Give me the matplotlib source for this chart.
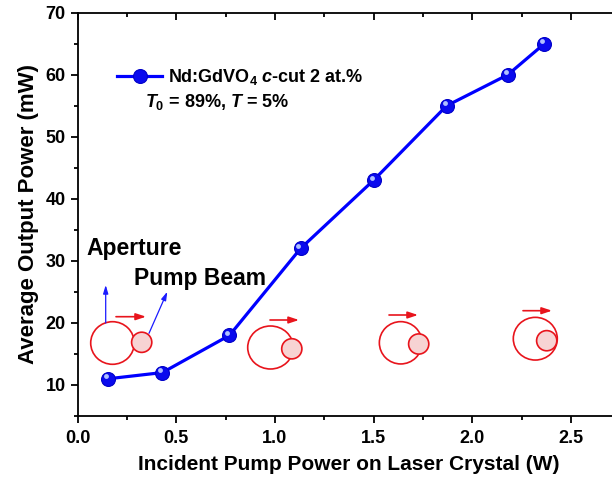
import numpy as np
import matplotlib
matplotlib.use("Agg")
import matplotlib.pyplot as plt
import matplotlib.markers as mmarkers
import matplotlib.transforms as mtransforms
from matplotlib.patches import Ellipse, Circle
from matplotlib.ticker import MultipleLocator

plt.rcParams["font.family"] = "Liberation Sans"
plt.rcParams["font.weight"] = "bold"
plt.rcParams["mathtext.fontset"] = "custom"
plt.rcParams["mathtext.rm"] = "Liberation Sans:bold"
plt.rcParams["mathtext.it"] = "Liberation Sans:italic:bold"
plt.rcParams["mathtext.bf"] = "Liberation Sans:bold"

# data
pump_power = [0.155, 0.43, 0.77, 1.13, 1.50, 1.87, 2.18, 2.365]   # W
output_power = [11, 12, 18, 32, 43, 55, 60, 65]                   # mW

legend_label = r"Nd:GdVO$_4$ $\mathit{c}$-cut 2 at.%"
cavity_label = r"$\mathit{T}_{\mathrm{0}}$ = 89%, $\mathit{T}$ = 5%"

# beam overlap sketches (pixel positions in the picture)
aperture_xy = [(112.5, 343), (270.5, 347.5), (400.7, 342.8), (535.3, 338.7)]
aperture_wh = [(43.6, 42.6), (45.6, 43), (42.7, 42.3), (44, 42.7)]
beam_xy = [(141.7, 342.3), (291.8, 348.8), (418.7, 344), (546.7, 340.7)]
beam_r = 10.1
shift_arrows = [((116, 316.7), (146, 316.7)), ((270, 320), (299, 320)),
                ((389, 315), (418, 315)), ((523, 310.7), (552, 310.7))]

fig = plt.figure(figsize=(6.12, 4.78), dpi=100)
ax = fig.add_axes([77.5 / 612, 62 / 478, 2.75 * 197.4 / 612, 403.3 / 478])

ax.plot(pump_power, output_power, "-", color="#0000ff", lw=2.3, zorder=3,
        marker="o", ms=10, mfc="#0a0aee", mec="#0000c8", mew=0.8, label=legend_label)
# small highlight on the spheres
off = mtransforms.ScaledTranslation(-1.5 / 72, 1.8 / 72, fig.dpi_scale_trans)
ax.plot(pump_power, output_power, "o", ms=3.5, color="#b0c0ff", mec="none",
        transform=ax.transData + off, zorder=4)

ax.set_xlim(0, 2.75)
ax.set_ylim(5, 70)
ax.xaxis.set_major_locator(MultipleLocator(0.5))
ax.xaxis.set_minor_locator(MultipleLocator(0.25))
ax.yaxis.set_major_locator(MultipleLocator(10))
ax.yaxis.set_minor_locator(MultipleLocator(5))
ax.set_xticks(np.arange(0, 2.51, 0.5))
ax.set_xticklabels(["0.0", "0.5", "1.0", "1.5", "2.0", "2.5"])
ax.tick_params(which="both", direction="out", width=1.3, labelsize=13,
               top=True, right=True)
ax.tick_params(axis="x", pad=5)
ax.tick_params(which="major", length=5)
ax.tick_params(which="minor", length=3)
# ticks on the top and right spines point into the plot
for t in ax.xaxis.get_major_ticks() + ax.xaxis.get_minor_ticks():
    t.tick2line.set_marker(mmarkers.TICKDOWN)
for t in ax.yaxis.get_major_ticks() + ax.yaxis.get_minor_ticks():
    t.tick2line.set_marker(mmarkers.TICKLEFT)
for s in ax.spines.values():
    s.set_linewidth(1.3)

ax.set_xlabel("Incident Pump Power on Laser Crystal (W)", fontsize=15, fontweight="bold", labelpad=6)
ax.set_ylabel("Average Output Power (mW)", fontsize=16, fontweight="bold", labelpad=5)

leg = ax.legend(loc="center left", bbox_to_anchor=(117 / 612, 1 - 77 / 478),
                bbox_transform=fig.transFigure, frameon=False, fontsize=13,
                handlelength=2.5, handletextpad=0.35, borderpad=0, borderaxespad=0)
fig.text(145 / 612, 1 - 102 / 478, cavity_label, fontsize=13, va="center", ha="left")

# overlay in picture pixel coordinates for the sketches
ov = fig.add_axes([0, 0, 1, 1], zorder=5)
ov.set_xlim(0, 612)
ov.set_ylim(478, 0)
ov.axis("off")
ov.patch.set_alpha(0)

for (cx, cy), (w, h) in zip(aperture_xy, aperture_wh):
    ov.add_patch(Ellipse((cx, cy), w, h, fill=False, ec="#e8141c", lw=1.2))
for cx, cy in beam_xy:
    ov.add_patch(Circle((cx, cy), beam_r, fc="#f7d3d3", ec="#e8141c", lw=1.2))
for (x0, y0), (x1, y1) in shift_arrows:
    ov.annotate("", xy=(x1, y1), xytext=(x0, y0),
                arrowprops=dict(arrowstyle="-|>,head_length=0.6,head_width=0.2",
                                color="#e8141c", lw=1.2, shrinkA=0, shrinkB=0))
ov.annotate("", xy=(105.7, 285), xytext=(105.7, 323),
            arrowprops=dict(arrowstyle="-|>,head_length=0.5,head_width=0.15",
                            color="#1a1aff", lw=0.9, shrinkA=0, shrinkB=0))
ov.annotate("", xy=(167.3, 291.7), xytext=(149, 333.3),
            arrowprops=dict(arrowstyle="-|>,head_length=0.5,head_width=0.15",
                            color="#1a1aff", lw=0.9, shrinkA=0, shrinkB=0))
ov.text(86, 248, "Aperture", fontsize=16.5, fontweight="bold", va="center", ha="left")
ov.text(134, 278, "Pump Beam", fontsize=16.5, fontweight="bold", va="center", ha="left")

fig.savefig("out.png", dpi=100)
